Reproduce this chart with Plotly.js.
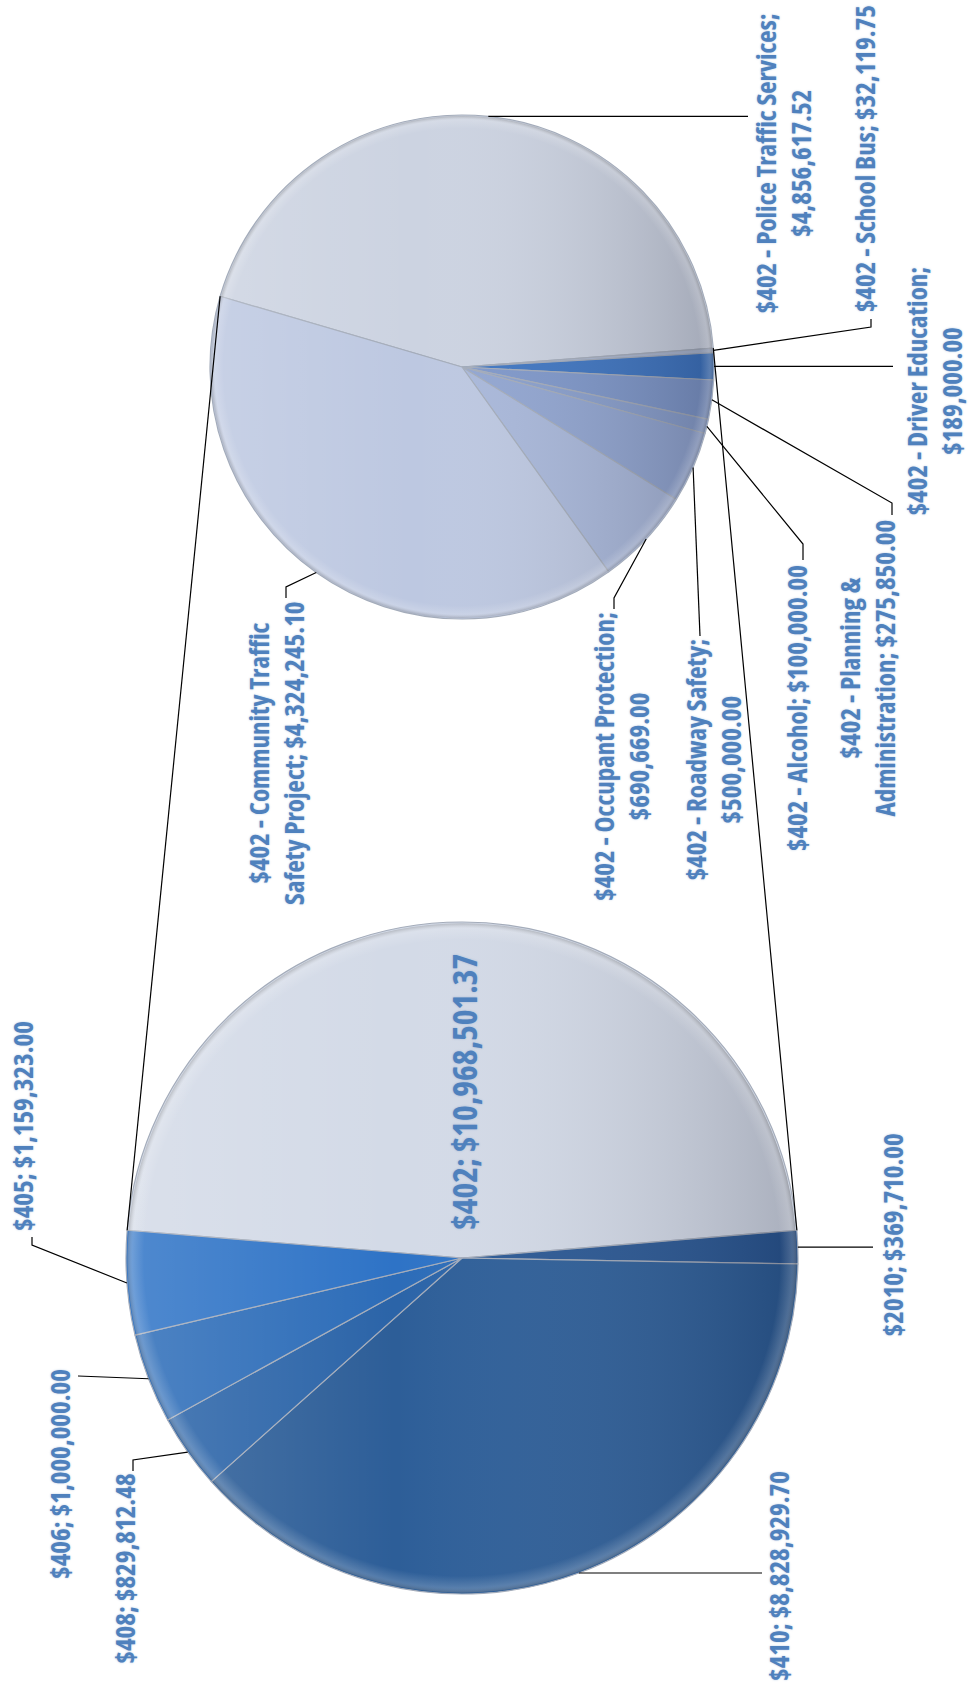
<!DOCTYPE html>
<html>
<head>
<meta charset="utf-8">
<script src="https://cdn.plot.ly/plotly-3.0.1.min.js"></script>
<style>
html,body{margin:0;padding:0;background:#ffffff;}
#chart{width:971px;height:1690px;}
/* narrow bold face for the data labels */
#chart .annotation-text{font-stretch:condensed;}
</style>
</head>
<body>
<div id="chart"></div>
<script>
// ---------------- DATA ----------------
const mainCategories = ['$402', '$2010', '$410', '$408', '$406', '$405'];
const mainValues = [10968501.37, 369710.00, 8828929.70, 829812.48, 1000000.00, 1159323.00];

const subCategories = [
  '$402 - Police Traffic Services',
  '$402 - School Bus',
  '$402 - Driver Education',
  '$402 - Planning & Administration',
  '$402 - Alcohol',
  '$402 - Roadway Safety',
  '$402 - Occupant Protection',
  '$402 - Community Traffic Safety Project'
];
const subValues = [4856617.52, 32119.75, 189000.00, 275850.00, 100000.00, 500000.00, 690669.00, 4324245.10];

// ---------------- STYLE / LAYOUT ----------------
const W = 971, H = 1690;
const big = {cx: 462, cy: 1258, r: 336};
const small = {cx: 462, cy: 367, r: 252};

const mainColors = ['#d3dae7', '#2a5894', '#2d5e98', '#2b64a8', '#2c6cb8', '#2e73c6'];
const subColors  = ['#ccd3e1', '#abb7cf', '#3f76c2', '#7f98ca', '#8aa0cd', '#92a6d1', '#a9b8da', '#bdc8e1'];

const textColor = '#4f81bd';
const fontFamily = '"Open Sans", Roboto, sans-serif';
const labelSize = 27;
const innerSize = 33.5;
const glow = '0px 0px 2px rgba(79,129,189,0.45)';

// label placement (pixel positions), by category index
const mainLabelSpec = {
  0: {inside: true, tx: 464, ty: 1092},
  5: {tx: 22, ty: 1126, path: [[32, 1245], [32, 1237]]},
  4: {tx: 59, ty: 1474, path: [[78, 1376]]},
  3: {tx: 124, ty: 1569, path: [[133, 1460], [133, 1471]]},
  2: {tx: 778, ty: 1576, path: [[762, 'pie']]},
  1: {tx: 892, ty: 1235, path: [[873, 'pie']]}
};
const subLabelSpec = {
  0: {tx: 783, ty: 164, brk: 'Services;', path: [[748, 'pie']]},
  1: {tx: 864, ty: 159, path: [[871, 327], [871, 319]]},
  2: {tx: 934, ty: 391, brk: 'Education;', path: [[893, 'pie']]},
  3: {tx: 867, ty: 668, brk: '&', path: [[892, 503], [892, 515]]},
  4: {tx: 797, ty: 708, path: [[803, 544], [803, 560]]},
  5: {tx: 713, ty: 760, brk: 'Safety;', path: [[700, 636]]},
  6: {tx: 621, ty: 757, brk: 'Protection;', path: [[614, 598], [614, 609]]},
  7: {tx: 276, ty: 753, brk: 'Traffic', path: [[286, 587], [286, 598]]}
};

// ---------------- HELPERS ----------------
const sum = a => a.reduce((s, v) => s + v, 0);
const X = px => px / W;
const Y = py => 1 - py / H;
const fmt = v => '$' + v.toLocaleString('en-US', {minimumFractionDigits: 2, maximumFractionDigits: 2});
function domainFor(p) {
  return {x: [X(p.cx - p.r), X(p.cx + p.r)], y: [Y(p.cy + p.r), Y(p.cy - p.r)]};
}
function angles(values, rot) {
  const tot = sum(values);
  let a = rot;
  return values.map(v => {
    const s = v / tot * 360;
    const o = {start: a, mid: a + s / 2, end: a + s};
    a += s;
    return o;
  });
}
function pt(p, deg) {
  const t = deg * Math.PI / 180;
  return [p.cx + p.r * Math.sin(t), p.cy - p.r * Math.cos(t)];
}

// main pie: the split-out slice is centred on 12 o'clock (toward the secondary pie)
const mainRotation = -180 * mainValues[0] / sum(mainValues);
const subRotation = -73.7;
const mainAng = angles(mainValues, mainRotation);
const subAng = angles(subValues, subRotation);

const shapes = [];
const annotations = [];
const lineStyle = {color: '#000000', width: 1.2};

function addLeader(p, ang, spec) {
  const start = pt(p, ang.mid);
  let d = 'M ' + X(start[0]) + ' ' + Y(start[1]);
  spec.path.forEach(q => {
    const qy = q[1] === 'pie' ? start[1] : q[1];
    d += ' L ' + X(q[0]) + ' ' + Y(qy);
  });
  shapes.push({type: 'path', xref: 'paper', yref: 'paper', path: d, line: lineStyle});
}

function addLabel(text, spec, size) {
  annotations.push({
    xref: 'paper', yref: 'paper', x: X(spec.tx), y: Y(spec.ty),
    xanchor: 'center', yanchor: 'middle', showarrow: false, textangle: -90,
    align: 'center', text: text,
    font: {family: fontFamily, size: size, color: textColor, weight: 700, shadow: glow}
  });
}

mainCategories.forEach((c, i) => {
  const spec = mainLabelSpec[i];
  const text = c + '; ' + fmt(mainValues[i]);
  if (spec.inside) {
    addLabel(text, spec, innerSize);
  } else {
    addLabel(text, spec, labelSize);
    addLeader(big, mainAng[i], spec);
  }
});

subCategories.forEach((c, i) => {
  const spec = subLabelSpec[i];
  let text = c + '; ' + fmt(subValues[i]);
  if (spec.brk) text = text.replace(spec.brk + ' ', spec.brk + '<br>');
  addLabel(text, spec, labelSize);
  addLeader(small, subAng[i], spec);
});

// connector lines between the split slice and the secondary pie
const l0 = pt(big, mainAng[0].start), l1 = pt(small, subAng[0].start);
const r0 = pt(big, mainAng[0].end), r1 = pt(small, subAng[0].end);
shapes.push({type: 'line', xref: 'paper', yref: 'paper', x0: X(l0[0]), y0: Y(l0[1]), x1: X(l1[0]), y1: Y(l1[1]), line: lineStyle});
shapes.push({type: 'line', xref: 'paper', yref: 'paper', x0: X(r0[0]), y0: Y(r0[1]), x1: X(r1[0]), y1: Y(r1[1]), line: lineStyle});

// shading overlay (light on the left, darker on the right) like the original gradient fill
function shadeImage(p) {
  const svg = '<svg xmlns="http://www.w3.org/2000/svg" width="200" height="200" viewBox="0 0 200 200">' +
    '<defs><linearGradient id="g" x1="0" y1="0" x2="1" y2="0">' +
    '<stop offset="0" stop-color="#ffffff" stop-opacity="0.16"/>' +
    '<stop offset="0.4" stop-color="#ffffff" stop-opacity="0.0"/>' +
    '<stop offset="1" stop-color="#000010" stop-opacity="0.2"/>' +
    '</linearGradient>' +
    '<radialGradient id="rim" cx="0.5" cy="0.5" r="0.5">' +
    '<stop offset="0.95" stop-color="#ffffff" stop-opacity="0"/>' +
    '<stop offset="0.985" stop-color="#ffffff" stop-opacity="0.18"/>' +
    '<stop offset="1" stop-color="#808080" stop-opacity="0.35"/>' +
    '</radialGradient></defs>' +
    '<circle cx="100" cy="100" r="99.6" fill="url(#g)"/>' +
    '<circle cx="100" cy="100" r="99.6" fill="url(#rim)"/></svg>';
  return {
    source: 'data:image/svg+xml;charset=utf-8,' + encodeURIComponent(svg),
    xref: 'paper', yref: 'paper', x: X(p.cx - p.r), y: Y(p.cy - p.r),
    sizex: 2 * p.r / W, sizey: 2 * p.r / H, xanchor: 'left', yanchor: 'top',
    sizing: 'stretch', layer: 'above', opacity: 1
  };
}

const traces = [
  {
    type: 'pie', values: mainValues, labels: mainCategories, sort: false,
    direction: 'clockwise', rotation: mainRotation, domain: domainFor(big),
    textinfo: 'none', hoverinfo: 'label+value',
    marker: {colors: mainColors, line: {color: '#a4acba', width: 1.2}}
  },
  {
    type: 'pie', values: subValues, labels: subCategories, sort: false,
    direction: 'clockwise', rotation: subRotation, domain: domainFor(small),
    textinfo: 'none', hoverinfo: 'label+value',
    marker: {colors: subColors, line: {color: '#a4acba', width: 1.2}}
  }
];

const layout = {
  width: W, height: H, margin: {l: 0, r: 0, t: 0, b: 0},
  paper_bgcolor: '#ffffff', plot_bgcolor: '#ffffff', showlegend: false,
  shapes: shapes, annotations: annotations,
  images: [shadeImage(big), shadeImage(small)]
};

Plotly.newPlot('chart', traces, layout, {displayModeBar: false, staticPlot: true});
</script>
</body>
</html>
